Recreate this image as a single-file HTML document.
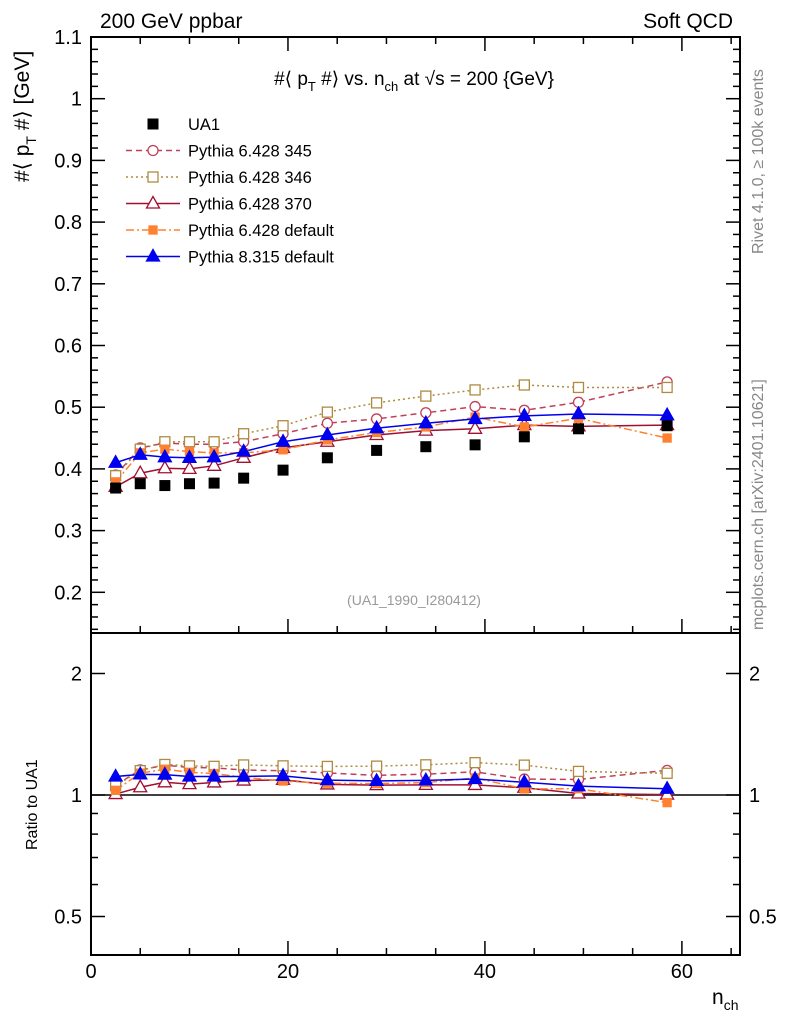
<!DOCTYPE html>
<html><head><meta charset="utf-8"><style>
body{margin:0;background:#fff;}
svg{font-family:"Liberation Sans",sans-serif;}
</style></head><body>
<svg id="chart" width="786" height="1024" xmlns="http://www.w3.org/2000/svg">
<g id="marks"></g>
</svg>
<script>
const xs=[2.5,5,7.5,10,12.5,15.5,19.5,24,29,34,39,44,49.5,58.5];
const ua1=[0.369,0.376,0.373,0.376,0.377,0.385,0.398,0.418,0.430,0.436,0.439,0.452,0.465,0.470];
const p345=[0.390,0.434,0.442,0.440,0.440,0.444,0.457,0.474,0.481,0.491,0.501,0.495,0.508,0.541];
const p346=[0.389,0.432,0.444,0.444,0.444,0.457,0.470,0.492,0.507,0.518,0.528,0.536,0.532,0.532];
const p370=[0.371,0.393,0.401,0.400,0.405,0.418,0.434,0.444,0.455,0.462,0.465,0.471,0.469,0.471];
const p6def=[0.379,0.426,0.432,0.428,0.426,0.426,0.431,0.447,0.459,0.468,0.484,0.468,0.482,0.450];
const p8def=[0.410,0.423,0.419,0.418,0.419,0.428,0.444,0.455,0.466,0.474,0.481,0.486,0.489,0.487];
const mainTicks=[0.2,0.3,0.4,0.5,0.6,0.7,0.8,0.9,1,1.1];
const ratioTicks=[0.5,1,2];
const xTicks=[0,20,40,60];

const NS="http://www.w3.org/2000/svg";
const svg=document.getElementById('chart');
const L=91,R=740,T=37,MB=633,B=955;
const X=v=>L+v*(R-L)/65.9;
const Y=v=>T+(1.1-v)*617;
const YR=r=>795-Math.log2(r)*121.5;
function el(tag,attrs,parent){const e=document.createElementNS(NS,tag);for(const k in attrs)e.setAttribute(k,attrs[k]);(parent||svg).appendChild(e);return e;}
function txt(s,x,y,attrs){const t=el('text',Object.assign({x:x,y:y},attrs));t.textContent=s;return t;}

let f=el('rect',{x:L,y:T,width:R-L,height:MB-T,fill:'none',stroke:'#000','stroke-width':2});

f=el('rect',{x:L,y:MB,width:R-L,height:B-MB,fill:'none',stroke:'#000','stroke-width':2});


for(let v=0;v<=65;v+=5){
  const big=v%20===0, len=big?14:7;
  [MB,B].forEach(b=>{let t=el('line',{x1:X(v),x2:X(v),y1:b,y2:b-len,stroke:'#000','stroke-width':1.5});
  });
  [T].forEach(b=>{let t=el('line',{x1:X(v),x2:X(v),y1:b,y2:b+len,stroke:'#000','stroke-width':1.5});
  });
}
xTicks.forEach(v=>{let t=txt(String(v),X(v),978,{'font-size':20,'text-anchor':'middle'});
});

for(let i=14;i<=110;i+=2){const v=i/100;const big=i%10===0;const len=big?14:7;
  [[L,1],[R,-1]].forEach(([x0,d])=>{let t=el('line',{x1:x0,x2:x0+d*len,y1:Y(v),y2:Y(v),stroke:'#000','stroke-width':1.5});
  });}
mainTicks.forEach(v=>{let t=txt(String(v),82,Y(v)+7,{'font-size':20,'text-anchor':'end'});
});

[0.5,0.6,0.7,0.8,0.9,1,2].forEach(v=>{const big=ratioTicks.includes(v);const len=big?14:7;
  [[L,1],[R,-1]].forEach(([x0,d])=>{let t=el('line',{x1:x0,x2:x0+d*len,y1:YR(v),y2:YR(v),stroke:'#000','stroke-width':1.5});
  });});
ratioTicks.forEach(v=>{let t=txt(String(v),82,YR(v)+7,{'font-size':20,'text-anchor':'end'});

t=txt(String(v),749,YR(v)+7,{'font-size':20});
});
let one=el('line',{x1:L,x2:R,y1:YR(1),y2:YR(1),stroke:'#000','stroke-width':1.5});


const series=[
 {name:'pythia-6428-345',d:p345,c:'#c0405a',dash:'6,4',m:'circle',fill:'none'},
 {name:'pythia-6428-346',d:p346,c:'#b08a40',dash:'2,3',m:'square',fill:'none'},
 {name:'pythia-6428-370',d:p370,c:'#a01030',dash:'',m:'tri',fill:'none'},
 {name:'pythia-6428-default',d:p6def,c:'#ff8030',dash:'8,3,2,3',m:'square',fill:'#ff8030',small:true},
 {name:'pythia-8315-default',d:p8def,c:'#0000ee',dash:'',m:'tri',fill:'#0000ee'}
];
function marker(m,x,y,c,fill,small,name){
  let e;
  if(m==='circle')e=el('circle',{cx:x,cy:y,r:5,fill:'#fff',stroke:c,'stroke-width':1.3});
  else if(m==='square'){const s=small?4:5;e=el('rect',{x:x-s,y:y-s,width:2*s,height:2*s,fill:fill==='none'?'#fff':fill,stroke:c,'stroke-width':1.3});}
  else e=el('polygon',{points:`${x},${y-7} ${x-6.5},${y+4.5} ${x+6.5},${y+4.5}`,fill:fill==='none'?'#fff':fill,stroke:c,'stroke-width':1.3});
  
  
}
series.forEach(s=>{
  let p=el('polyline',{points:xs.map((x,i)=>X(x)+','+Y(s.d[i])).join(' '),fill:'none',stroke:s.c,'stroke-width':1.5,'stroke-dasharray':s.dash});
  
  let r=el('polyline',{points:xs.map((x,i)=>X(x)+','+YR(s.d[i]/ua1[i])).join(' '),fill:'none',stroke:s.c,'stroke-width':1.5,'stroke-dasharray':s.dash});
  
});
series.forEach(s=>{
  xs.forEach((x,i)=>{marker(s.m,X(x),Y(s.d[i]),s.c,s.fill,s.small,s.name+'-point');
    marker(s.m,X(x),YR(s.d[i]/ua1[i]),s.c,s.fill,s.small,s.name+'-ratio-point');});
});
xs.forEach((x,i)=>{let r=el('rect',{x:X(x)-5.5,y:Y(ua1[i])-5.5,width:11,height:11,fill:'#000'});
});

const leg=[['UA1','ua1'],['Pythia 6.428 345'],['Pythia 6.428 346'],['Pythia 6.428 370'],['Pythia 6.428 default'],['Pythia 8.315 default']];
leg.forEach((l,i)=>{const y=124+i*26.5;
  if(i===0){let r=el('rect',{x:147.5,y:y-5.5,width:11,height:11,fill:'#000'});}
  else{const s=series[i-1];
    let ln=el('line',{x1:126,x2:180,y1:y,y2:y,stroke:s.c,'stroke-width':1.5,'stroke-dasharray':s.dash});
    
    marker(s.m,153,y,s.c,s.fill,s.small,'legend-marker');}
  let t=txt(l[0],188,y+6,{'font-size':16.5});
});
</script>
<svg style="position:absolute;left:0;top:0" width="786" height="1024" xmlns="http://www.w3.org/2000/svg" font-family="Liberation Sans, sans-serif">
<text x="100" y="28" font-size="21">200 GeV ppbar</text>
<text x="733" y="28" font-size="21" text-anchor="end">Soft QCD</text>
<text x="414" y="85" font-size="19" text-anchor="middle">#⟨ p<tspan font-size="13" dy="6">T</tspan><tspan dy="-6"> #⟩ vs. n</tspan><tspan font-size="13" dy="6">ch</tspan><tspan dy="-6"> at √s = 200 {GeV}</tspan></text>
<text transform="translate(29,182) rotate(-90)" font-size="21">#⟨ p<tspan font-size="14" dy="7">T</tspan><tspan dy="-7"> #⟩ [GeV]</tspan></text>
<text transform="translate(37,850) rotate(-90)" font-size="16">Ratio to UA1</text>
<text x="712" y="1004" font-size="21">n<tspan font-size="14" dy="6">ch</tspan></text>
<text x="414" y="605" font-size="14" fill="#999" text-anchor="middle">(UA1_1990_I280412)</text>
<text transform="translate(763,254) rotate(-90)" font-size="16" fill="#888">Rivet 4.1.0, ≥ 100k events</text>
<text transform="translate(763,630) rotate(-90)" font-size="16" fill="#888">mcplots.cern.ch [arXiv:2401.10621]</text>
</svg>
</body></html>
